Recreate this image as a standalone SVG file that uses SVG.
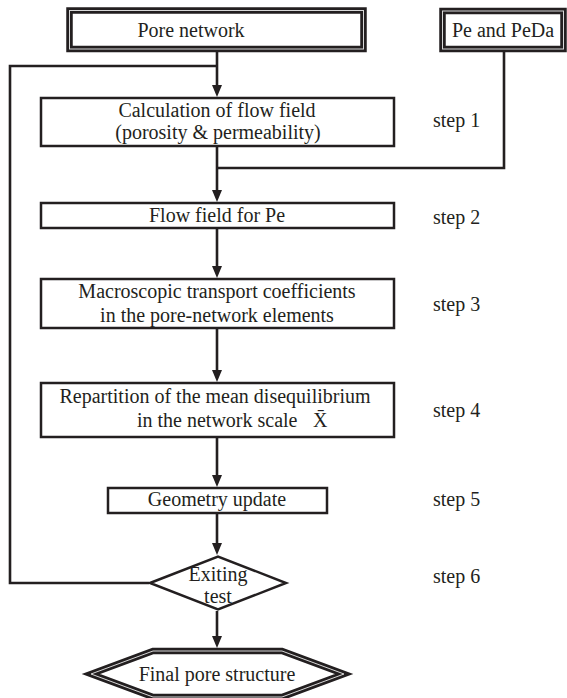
<svg xmlns="http://www.w3.org/2000/svg" width="567" height="698" viewBox="0 0 567 698">
<style>
text{font-family:"Liberation Serif","Times New Roman",serif;font-size:20px;fill:#231f20}
.m{text-anchor:middle}
.box{fill:#fff;stroke:#231f20;stroke-width:2.5}
.dbl{fill:#fff;stroke:#231f20;stroke-width:6.5}
.dbl2{fill:none;stroke:#d8d8d8;stroke-width:1}
.c{fill:none;stroke:#231f20;stroke-width:2.6}
</style>
<defs>
<marker id="ah" markerUnits="userSpaceOnUse" markerWidth="12" markerHeight="10" refX="1" refY="5" orient="auto">
<path d="M0,0 L12,5 L0,10 z" fill="#231f20"/>
</marker>
</defs>
<g id="connectors">
<path class="c" d="M217,52 V86" marker-end="url(#ah)"/>
<path class="c" d="M217,147 V191" marker-end="url(#ah)"/>
<path class="c" d="M217,229 V267" marker-end="url(#ah)"/>
<path class="c" d="M217,329 V371" marker-end="url(#ah)"/>
<path class="c" d="M217,438 V476" marker-end="url(#ah)"/>
<path class="c" d="M217,514 V544" marker-end="url(#ah)"/>
<path class="c" d="M217,611 V637" marker-end="url(#ah)"/>
<path class="c" d="M149,583 H10 V66 H217"/>
<path class="c" d="M504,52 V168 H217"/>
</g>
<g id="pore-network">
<rect class="dbl" x="69.5" y="10.5" width="294" height="38.5"/>
<rect class="dbl2" x="69.5" y="10.5" width="294" height="38.5"/>
<text class="m" x="191" y="37">Pore network</text>
</g>
<g id="pe-peda">
<rect class="dbl" x="442.5" y="11" width="121" height="38"/>
<rect class="dbl2" x="442.5" y="11" width="121" height="38"/>
<text class="m" x="503" y="37">Pe and PeDa</text>
</g>
<g id="step1">
<rect class="box" x="41" y="98" width="353" height="48"/>
<text class="m" x="217" y="117">Calculation of flow field</text>
<text class="m" x="218" y="139">(porosity &amp; permeability)</text>
<text x="433" y="127">step 1</text>
</g>
<g id="step2">
<rect class="box" x="41" y="203" width="353" height="25"/>
<text class="m" x="217" y="222">Flow field for Pe</text>
<text x="433" y="224">step 2</text>
</g>
<g id="step3">
<rect class="box" x="41" y="279" width="353" height="49"/>
<text class="m" x="217" y="298">Macroscopic transport coefficients</text>
<text class="m" x="217" y="322">in the pore-network elements</text>
<text x="433" y="311">step 3</text>
</g>
<g id="step4">
<rect class="box" x="41" y="383" width="353" height="54"/>
<text class="m" x="215" y="403">Repartition of the mean disequilibrium</text>
<text x="137" y="427">in the network scale<tspan x="313">X̄</tspan></text>
<text x="433" y="417">step 4</text>
</g>
<g id="step5">
<rect class="box" x="108" y="488" width="219" height="25"/>
<text class="m" x="217" y="506">Geometry update</text>
<text x="433" y="506">step 5</text>
</g>
<g id="step6">
<polygon class="box" points="150,583 218,556.5 286,583 218,609.5"/>
<text class="m" x="218" y="581">Exiting</text>
<text class="m" x="218" y="603">test</text>
<text x="433" y="583">step 6</text>
</g>
<g id="final">
<polygon class="dbl" points="91,674 153,651 282,651 344,674 282,697 153,697"/>
<polygon class="dbl2" points="91,674 153,651 282,651 344,674 282,697 153,697"/>
<text class="m" x="217" y="681">Final pore structure</text>
</g>
</svg>
